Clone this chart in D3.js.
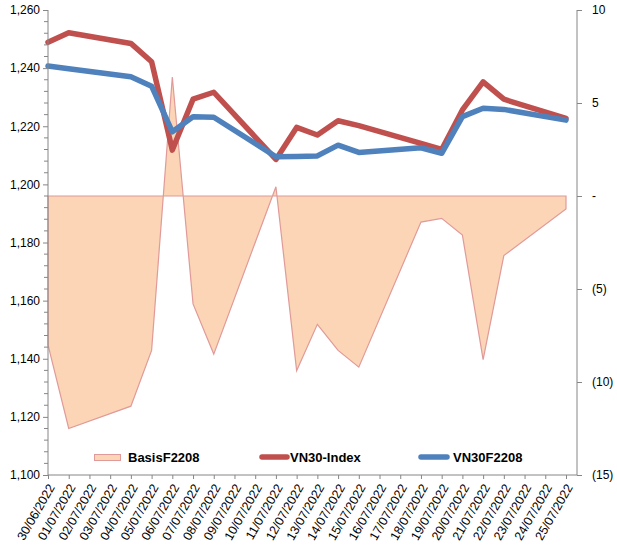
<!DOCTYPE html>
<html>
<head>
<meta charset="utf-8">
<script src="https://cdn.jsdelivr.net/npm/d3@7"></script>
<style>
  html, body { margin: 0; padding: 0; background: #fff; }
  svg { display: block; font-family: "Liberation Sans", Arial, sans-serif; }
</style>
</head>
<body>
<svg id="chart" width="617" height="553"></svg>
<script>
// ---- data ----
const axisDates = ["30/06/2022","01/07/2022","02/07/2022","03/07/2022","04/07/2022","05/07/2022","06/07/2022","07/07/2022","08/07/2022","09/07/2022","10/07/2022","11/07/2022","12/07/2022","13/07/2022","14/07/2022","15/07/2022","16/07/2022","17/07/2022","18/07/2022","19/07/2022","20/07/2022","21/07/2022","22/07/2022","23/07/2022","24/07/2022","25/07/2022"];
const tradeDates = ["30/06/2022","01/07/2022","04/07/2022","05/07/2022","06/07/2022","07/07/2022","08/07/2022","11/07/2022","12/07/2022","13/07/2022","14/07/2022","15/07/2022","18/07/2022","19/07/2022","20/07/2022","21/07/2022","22/07/2022","25/07/2022"];
const vn30Index = [1248.9,1252.2,1248.5,1242.2,1211.8,1229.3,1231.7,1208.6,1219.6,1217.0,1221.9,1220.2,1214.1,1212.0,1225.6,1235.3,1229.3,1222.7];
const vn30F2208 = [1240.7,1239.8,1237.0,1233.8,1218.1,1223.3,1223.1,1209.5,1209.6,1209.8,1213.5,1211.0,1212.6,1210.7,1223.3,1226.2,1225.8,1222.1];
const basisF2208 = [-8.0,-12.5,-11.3,-8.3,6.4,-5.8,-8.5,0.5,-9.4,-6.9,-8.3,-9.2,-1.4,-1.2,-2.1,-8.8,-3.2,-0.7];
const leftTicks = [1100,1120,1140,1160,1180,1200,1220,1240,1260];
const rightTicks = [-15,-10,-5,0,5,10];
const seriesNames = ["BasisF2208","VN30-Index","VN30F2208"];

// ---- layout ----
const parse = d3.utcParse("%d/%m/%Y");
const fmtDate = d3.utcFormat("%d/%m/%Y");
const plotL = 48, plotR = 577, plotT = 10, plotB = 475;
const colRed = "#C0504D", colBlue = "#4F81BD", colFill = "#FBD5B5", colEdge = "#E09A99", axisCol = "#868686";

const svg = d3.select("#chart");

const x = d3.scaleUtc()
  .domain([parse(axisDates[0]), parse(axisDates[axisDates.length - 1])])
  .range([plotL, 566]);
const yL = d3.scaleLinear().domain([1100, 1260]).range([plotB, plotT]);
const yR = d3.scaleLinear().domain([-15, 10]).range([plotB, plotT]);

const fmtL = d3.format(",");
const fmtR = v => v === 0 ? "-" : (v < 0 ? "(" + Math.abs(v) + ")" : String(v));

// ---- basis area ----
const bData = tradeDates.map((d, i) => ({ date: parse(d), v: basisF2208[i] }));
const area = d3.area().x(d => x(d.date)).y0(yR(0)).y1(d => yR(d.v));
svg.append("path")
  .datum(bData)
  .attr("d", area)
  .attr("fill", colFill)
  .attr("stroke", colEdge)
  .attr("stroke-width", 1.2);

// ---- lines ----
const line = d3.line().x(d => x(d.date)).y(d => yL(d.v));
[[vn30Index, colRed], [vn30F2208, colBlue]].forEach(([vals, col]) => {
  svg.append("path")
    .datum(tradeDates.map((d, i) => ({ date: parse(d), v: vals[i] })))
    .attr("d", line)
    .attr("fill", "none")
    .attr("stroke", col)
    .attr("stroke-width", 5.5)
    .attr("stroke-linejoin", "round")
    .attr("stroke-linecap", "round");
});

// ---- left axis ----
const gL = svg.append("g").attr("transform", `translate(${plotL},0)`)
  .call(d3.axisLeft(yL).tickValues(leftTicks).tickFormat(fmtL).tickSize(5).tickPadding(3));
gL.select(".domain").attr("stroke", axisCol).attr("d", `M0,${plotT}V${plotB}`);
gL.selectAll(".tick line").attr("stroke", axisCol);
gL.selectAll(".tick text").attr("font-size", 12).attr("fill", "#000").attr("font-family", "Liberation Sans, Arial, sans-serif");
// minor ticks
const minor = d3.range(1100, 1261, 4).filter(v => v % 20 !== 0);
gL.selectAll(".minor").data(minor).enter().append("line")
  .attr("x1", -4).attr("x2", 0)
  .attr("y1", d => yL(d)).attr("y2", d => yL(d))
  .attr("stroke", axisCol);

// ---- right axis ----
const gR = svg.append("g").attr("transform", `translate(${plotR},0)`)
  .call(d3.axisRight(yR).tickValues(rightTicks).tickFormat(fmtR).tickSize(5).tickPadding(10));
gR.select(".domain").attr("stroke", axisCol).attr("d", `M0,${plotT}V${plotB}`);
gR.selectAll(".tick line").attr("stroke", axisCol);
gR.selectAll(".tick text").attr("font-size", 12).attr("fill", "#000").attr("font-family", "Liberation Sans, Arial, sans-serif");

// ---- bottom axis ----
const gB = svg.append("g").attr("transform", `translate(0,${plotB})`)
  .call(d3.axisBottom(x).tickValues(axisDates.map(parse)).tickFormat(fmtDate).tickSize(4));
gB.select(".domain").attr("stroke", axisCol).attr("d", `M${plotL},0H${plotR}`);
gB.selectAll(".tick line").attr("stroke", axisCol);
gB.selectAll(".tick text")
  .attr("font-size", 12.5)
  .attr("fill", "#000")
  .attr("font-family", "Liberation Sans, Arial, sans-serif")
  .attr("text-anchor", "end")
  .attr("dy", "0.35em")
  .attr("transform", "translate(3,10) rotate(-60)")
  .attr("x", 0).attr("y", 0);

// ---- legend ----
const lg = svg.append("g");
const ly = 457;
lg.append("rect").attr("x", 94.5).attr("y", 454.5).attr("width", 26).attr("height", 6)
  .attr("fill", colFill).attr("stroke", colEdge).attr("stroke-width", 1);
lg.append("text").attr("x", 128).attr("y", ly).attr("dy", "0.35em")
  .attr("font-size", 13).attr("font-weight", "bold").text(seriesNames[0]);
lg.append("line").attr("x1", 262).attr("x2", 287).attr("y1", ly).attr("y2", ly)
  .attr("stroke", colRed).attr("stroke-width", 5.5).attr("stroke-linecap", "round");
lg.append("text").attr("x", 290).attr("y", ly).attr("dy", "0.35em")
  .attr("font-size", 13).attr("font-weight", "bold").text(seriesNames[1]);
lg.append("line").attr("x1", 421).attr("x2", 447).attr("y1", ly).attr("y2", ly)
  .attr("stroke", colBlue).attr("stroke-width", 5.5).attr("stroke-linecap", "round");
lg.append("text").attr("x", 453).attr("y", ly).attr("dy", "0.35em")
  .attr("font-size", 13).attr("font-weight", "bold").text(seriesNames[2]);
</script>
</body>
</html>
